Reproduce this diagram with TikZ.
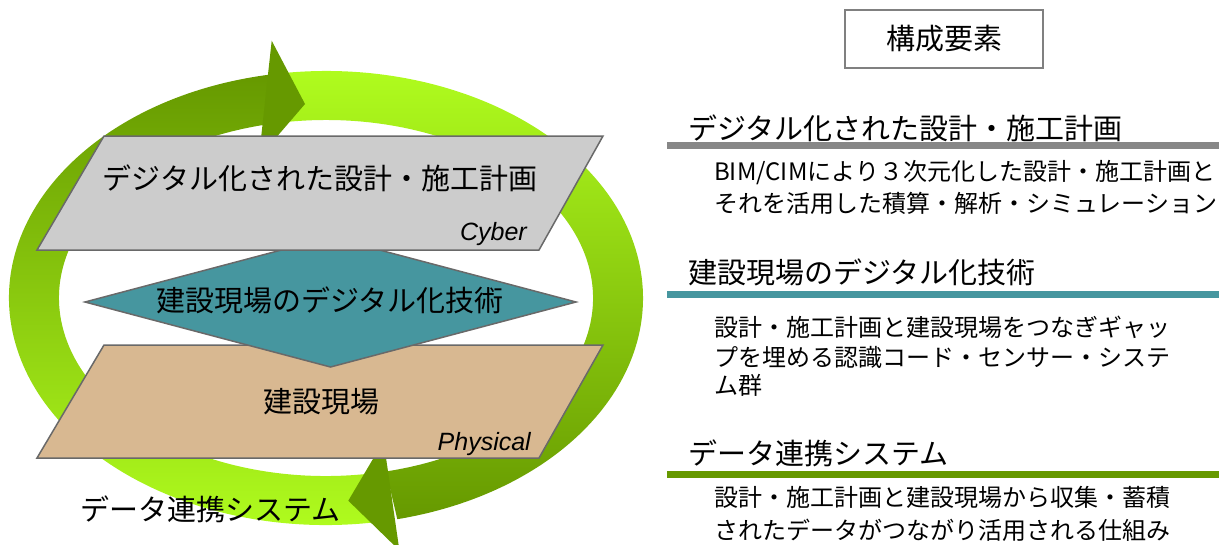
\documentclass[tikz,border=0pt]{standalone}
\usepackage{fontspec}
\setmainfont{Noto Sans CJK JP}
\newfontfamily\latinfont{Liberation Sans}
\definecolor{ringlight}{RGB}{178,255,31}
\definecolor{ringdark}{RGB}{102,153,0}
\definecolor{cybergray}{RGB}{204,204,204}
\definecolor{sitetan}{RGB}{216,184,145}
\definecolor{techteal}{RGB}{70,150,159}
\definecolor{edgegray}{RGB}{105,105,105}
\definecolor{bargray}{RGB}{135,135,135}
\tikzset{
  plane/.style={draw=edgegray,line width=1.5pt,line join=miter},
  bigtext/.style={font=\fontsize{29}{35}\selectfont,inner sep=0pt},
  bodytext/.style={font=\fontsize{24}{30}\selectfont,inner sep=0pt,anchor=west},
  tagtext/.style={font=\latinfont\itshape\fontsize{25}{30}\selectfont,inner sep=0pt,anchor=east},
  bar/.style={line width=7pt}
}
\begin{document}
\begin{tikzpicture}[x=1pt,y=-1pt]
			\useasboundingbox (0,0) rectangle (1223,544);
			\coordinate (ringc) at (326,298);
			\path[top color=ringdark,bottom color=ringlight] (ringc) ++(80:317 and 227) arc[start angle=80, end angle=260, x radius=317, y radius=227] -- ([shift={(ringc)}]260:267 and 178) arc[start angle=260, end angle=80, x radius=267, y radius=178] -- cycle;
			\path[top color=ringlight,bottom color=ringdark] (ringc) ++(-98:317 and 227) arc[start angle=-98, end angle=77, x radius=317, y radius=227] -- ([shift={(ringc)}]77:267 and 178) arc[start angle=77, end angle=-98, x radius=267, y radius=178] -- cycle;
			\fill[ringdark] (271.7,40.7) -- (305,104) -- (258.9,157.6) -- cycle;
			\fill[ringdark] (383.6,441) -- (348.3,500.7) -- (399.4,550.4) -- cycle;
			\filldraw[plane,fill=sitetan] (104,345) -- (603,345) -- (539,458) -- (37,458) -- cycle;
			\filldraw[plane,fill=techteal] (85,302) -- (330.5,237) -- (576,302) -- (330.5,367) -- cycle;
			\filldraw[plane,fill=cybergray] (104,136) -- (603,136) -- (539,250) -- (37,250) -- cycle;
			\node[bigtext] (cybertitle) at (320,178) {デジタル化された設計・施工計画};
			\node[tagtext] (cybertag) at (527,234) {Cyber};
			\node[bigtext] (techtitle) at (330,300) {建設現場のデジタル化技術};
			\node[bigtext] (sitetitle) at (321,402) {建設現場};
			\node[tagtext] (sitetag) at (531,444) {Physical};
			\node[bigtext] (datatitle) at (210.5,509) {データ連携システム};
			\node[bigtext,draw=gray,line width=2pt,minimum width=198pt,minimum height=58pt] (parts) at (944,39) {構成要素};
			\node[bigtext,anchor=west] (cyberhead) at (688,128) {デジタル化された設計・施工計画};
			\draw[bar,bargray] (667,145) -- (1219,145);
			\node[bodytext] (cyberbodya) at (714,173) {BIM/CIMにより３次元化した設計・施工計画と};
			\node[bodytext] (cyberbodyb) at (714,203) {それを活用した積算・解析・シミュレーション};
			\node[bigtext,anchor=west] (techhead) at (688,272) {建設現場のデジタル化技術};
			\draw[bar,techteal] (667,294) -- (1219,294);
			\node[bodytext] (techbodya) at (714,327) {設計・施工計画と建設現場をつなぎギャッ};
			\node[bodytext] (techbodyb) at (714,357) {プを埋める認識コード・センサー・システ};
			\node[bodytext] (techbodyc) at (714,385) {ム群};
			\node[bigtext,anchor=west] (datahead) at (688,453) {データ連携システム};
			\draw[bar,ringdark] (667,474) -- (1219,474);
			\node[bodytext] (databodya) at (714,497) {設計・施工計画と建設現場から収集・蓄積};
			\node[bodytext] (databodyb) at (714,530) {されたデータがつながり活用される仕組み};
		\end{tikzpicture}
\end{document}
